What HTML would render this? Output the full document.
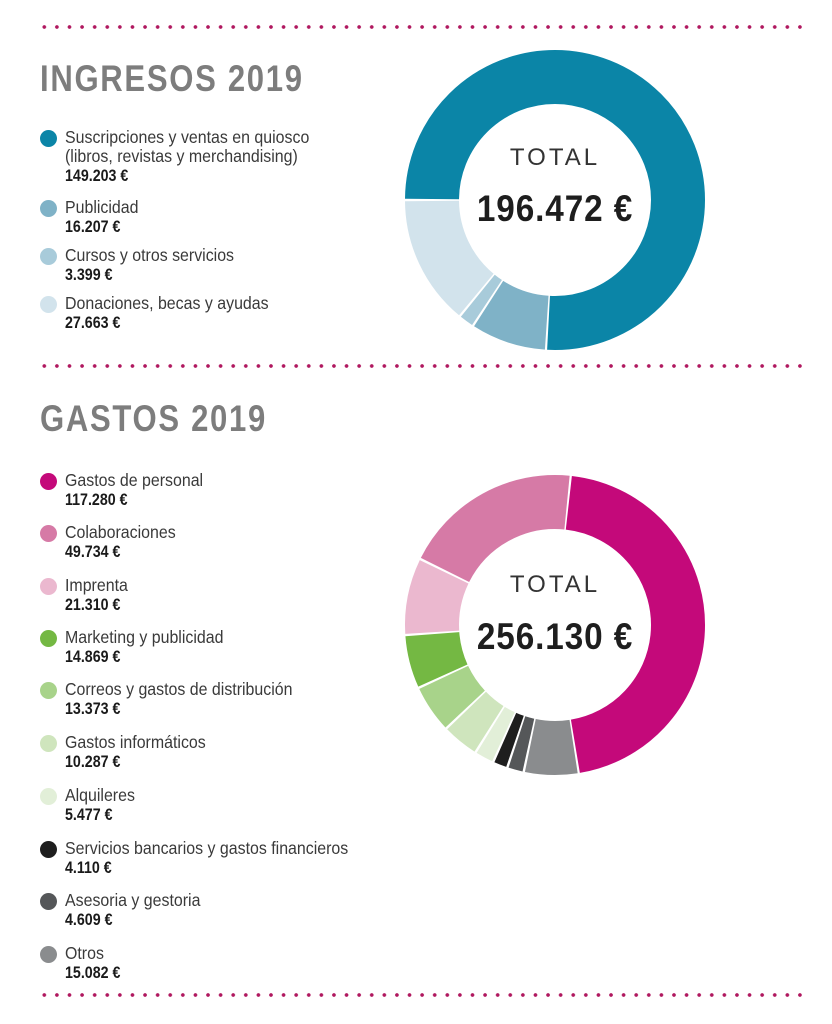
<!DOCTYPE html>
<html><head><meta charset="utf-8"><style>
body{margin:0;width:832px;height:1024px;background:#fff;position:relative;overflow:hidden;font-family:"Liberation Sans",sans-serif;color:#333}
.dots{position:absolute;left:38px;width:766px;height:6px;background:radial-gradient(circle,#b0185f 1.6px,transparent 2.1px) 0 0/12.6px 6px repeat-x}
.title{position:absolute;left:40px;font-family:"Liberation Sans",sans-serif;font-weight:bold;font-size:37px;letter-spacing:2px;color:#7d7d7d;transform:scaleX(0.84);transform-origin:left}
.it{position:absolute;left:40px}
.d{position:absolute;left:0;top:2px;width:17px;height:17px;border-radius:50%}
.t{position:absolute;left:25px;top:0;font-size:17.5px;line-height:19px;white-space:nowrap;color:#3a3a3a;transform:scaleX(.91);transform-origin:left}
.t b{color:#1a1a1a;font-size:17px;display:inline-block;transform:scaleX(.92);transform-origin:left}
.tot{position:absolute;width:300px;text-align:center;left:405px;font-family:"Liberation Sans",sans-serif}
.tl{font-size:24px;letter-spacing:3px;color:#333;font-weight:normal}
.tv{font-size:37px;font-weight:bold;color:#1e1e1e;letter-spacing:1px;transform:scaleX(.9)}
</style></head><body>
<div class="dots" style="top:24px"></div>
<div class="dots" style="top:363px"></div>
<div class="dots" style="top:992px"></div>

<div class="title" style="top:58px">INGRESOS 2019</div>
<div class="it" style="top:128px"><div class="d" style="background:#0b85a7"></div><div class="t">Suscripciones y ventas en quiosco<br>(libros, revistas y merchandising)<br><b>149.203 €</b></div></div>
<div class="it" style="top:198px"><div class="d" style="background:#7fb2c7"></div><div class="t">Publicidad<br><b>16.207 €</b></div></div>
<div class="it" style="top:246px"><div class="d" style="background:#a8cbda"></div><div class="t">Cursos y otros servicios<br><b>3.399 €</b></div></div>
<div class="it" style="top:294px"><div class="d" style="background:#d2e3ec"></div><div class="t">Donaciones, becas y ayudas<br><b>27.663 €</b></div></div>

<div class="title" style="top:398px">GASTOS 2019</div>
<div class="it" style="top:471px"><div class="d" style="background:#c4097a"></div><div class="t">Gastos de personal<br><b>117.280 €</b></div></div>
<div class="it" style="top:523px"><div class="d" style="background:#d67aa6"></div><div class="t">Colaboraciones<br><b>49.734 €</b></div></div>
<div class="it" style="top:576px"><div class="d" style="background:#ebb8cf"></div><div class="t">Imprenta<br><b>21.310 €</b></div></div>
<div class="it" style="top:628px"><div class="d" style="background:#74b843"></div><div class="t">Marketing y publicidad<br><b>14.869 €</b></div></div>
<div class="it" style="top:680px"><div class="d" style="background:#a8d38a"></div><div class="t">Correos y gastos de distribución<br><b>13.373 €</b></div></div>
<div class="it" style="top:733px"><div class="d" style="background:#cfe5bd"></div><div class="t">Gastos informáticos<br><b>10.287 €</b></div></div>
<div class="it" style="top:786px"><div class="d" style="background:#e2efd8"></div><div class="t">Alquileres<br><b>5.477 €</b></div></div>
<div class="it" style="top:839px"><div class="d" style="background:#1e1e1e"></div><div class="t">Servicios bancarios y gastos financieros<br><b>4.110 €</b></div></div>
<div class="it" style="top:891px"><div class="d" style="background:#555759"></div><div class="t">Asesoria y gestoria<br><b>4.609 €</b></div></div>
<div class="it" style="top:944px"><div class="d" style="background:#8a8c8e"></div><div class="t">Otros<br><b>15.082 €</b></div></div>

<svg width="832" height="1024" style="position:absolute;left:0;top:0" fill="none" stroke-width="54">
<g>
<circle cx="555" cy="200" r="123" stroke="#0b85a7" stroke-dasharray="0 1 584.9 1000" transform="rotate(180 555 200)"/>
<circle cx="555" cy="200" r="123" stroke="#7fb2c7" stroke-dasharray="0 1 61.8 1000" transform="rotate(93.4 555 200)"/>
<circle cx="555" cy="200" r="123" stroke="#a8cbda" stroke-dasharray="0 1 11.4 1000" transform="rotate(123.1 555 200)"/>
<circle cx="555" cy="200" r="123" stroke="#d2e3ec" stroke-dasharray="0 1 106.8 1000" transform="rotate(129.3 555 200)"/>
</g>
<g>
<circle cx="555" cy="625" r="123" stroke="#c4097a" stroke-dasharray="0 1 351.9 1000" transform="rotate(-84 555 625)"/>
<circle cx="555" cy="625" r="123" stroke="#8a8c8e" stroke-dasharray="0 1 43.5 1000" transform="rotate(80.84 555 625)"/>
<circle cx="555" cy="625" r="123" stroke="#555759" stroke-dasharray="0 1 11.9 1000" transform="rotate(102.04 555 625)"/>
<circle cx="555" cy="625" r="123" stroke="#1e1e1e" stroke-dasharray="0 1 10.4 1000" transform="rotate(108.52 555 625)"/>
<circle cx="555" cy="625" r="123" stroke="#e2efd8" stroke-dasharray="0 1 14.5 1000" transform="rotate(114.3 555 625)"/>
<circle cx="555" cy="625" r="123" stroke="#cfe5bd" stroke-dasharray="0 1 29 1000" transform="rotate(122 555 625)"/>
<circle cx="555" cy="625" r="123" stroke="#a8d38a" stroke-dasharray="0 1 38.4 1000" transform="rotate(136.46 555 625)"/>
<circle cx="555" cy="625" r="123" stroke="#74b843" stroke-dasharray="0 1 42.9 1000" transform="rotate(155.26 555 625)"/>
<circle cx="555" cy="625" r="123" stroke="#ebb8cf" stroke-dasharray="0 1 62.3 1000" transform="rotate(176.16 555 625)"/>
<circle cx="555" cy="625" r="123" stroke="#d67aa6" stroke-dasharray="0 1 148.1 1000" transform="rotate(206.11 555 625)"/>
</g>
</svg>

<div class="tot tl" style="top:144px">TOTAL</div>
<div class="tot tv" style="top:188px">196.472 €</div>
<div class="tot tl" style="top:571px">TOTAL</div>
<div class="tot tv" style="top:616px">256.130 €</div>
</body></html>
